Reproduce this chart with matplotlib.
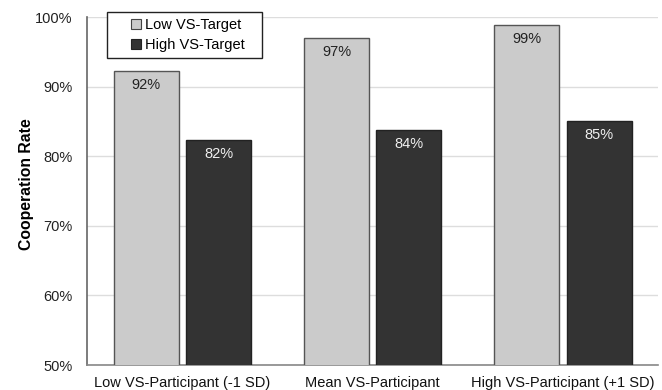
import matplotlib
matplotlib.use("Agg")
import matplotlib.pyplot as plt
from matplotlib.lines import Line2D
import numpy as np

plt.rcParams['font.family'] = ['Liberation Sans', 'DejaVu Sans']

categories = ["Low VS-Participant (-1 SD)", "Mean VS-Participant", "High VS-Participant (+1 SD)"]
series_names = ["Low VS-Target", "High VS-Target"]
low_target = [92.2, 97.0, 98.9]
high_target = [82.4, 83.8, 85.1]
bar_labels_low = ["92%", "97%", "99%"]
bar_labels_high = ["82%", "84%", "85%"]
yticks = [50, 60, 70, 80, 90, 100]

light = "#cbcbcb"
dark = "#333333"

fig = plt.figure(figsize=(6.62, 3.90), dpi=100)
ax = fig.add_axes([0.132, 0.064, 0.862, 0.892])

x = np.arange(len(categories))
w = 0.342
off = 0.19

b1 = ax.bar(x - off, low_target, width=w, color=light, edgecolor="#555555", linewidth=1.0, zorder=3)
b2 = ax.bar(x + off, high_target, width=w, color=dark, edgecolor="#222222", linewidth=1.0, zorder=3)

for rect, txt in zip(b1, bar_labels_low):
    ax.annotate(txt, (rect.get_x() + rect.get_width() / 2, rect.get_height()),
                xytext=(0, -5), textcoords="offset points", ha="center", va="top",
                fontsize=10.5, color="#222222", zorder=4)
for rect, txt in zip(b2, bar_labels_high):
    ax.annotate(txt, (rect.get_x() + rect.get_width() / 2, rect.get_height()),
                xytext=(0, -5), textcoords="offset points", ha="center", va="top",
                fontsize=10.5, color="#f0f0f0", zorder=4)

ax.set_xlim(-0.5, 2.5)
ax.set_ylim(50, 100)
ax.set_yticks(yticks)
ax.set_yticklabels([f"{v}%" for v in yticks], fontsize=10.5, color="#222222")
ax.set_xticks(x)
ax.set_xticklabels(categories, fontsize=10.5, color="#111111")
ax.tick_params(axis="x", length=0, pad=8)
ax.tick_params(axis="y", length=0, pad=10.5)

ax.yaxis.grid(True, color="#dddddd", linewidth=1.0, zorder=0)
ax.set_axisbelow(True)
for s in ["top", "right"]:
    ax.spines[s].set_visible(False)
ax.spines["left"].set_color("#666666")
ax.spines["bottom"].set_color("#888888")
ax.spines["left"].set_linewidth(1.2)
ax.spines["bottom"].set_linewidth(1.2)

ax.set_ylabel("Cooperation Rate", fontsize=11.3, fontweight="bold")
ax.yaxis.set_label_coords(-0.094, 0.52)

handles = [
    Line2D([], [], linestyle="none", marker="s", markersize=6.5,
           markerfacecolor=light, markeredgecolor="#444444", markeredgewidth=0.8),
    Line2D([], [], linestyle="none", marker="s", markersize=6.5,
           markerfacecolor=dark, markeredgecolor="#222222", markeredgewidth=0.8),
]
leg = ax.legend(handles, series_names, loc="upper left", mode="expand",
                bbox_to_anchor=(0.034, 0.894, 0.272, 0.12), fontsize=10.5,
                frameon=True, fancybox=False, edgecolor="#222222", framealpha=1,
                handlelength=3.2, handletextpad=-1.0,
                borderpad=0.4, labelspacing=0.42, borderaxespad=0)
leg.get_frame().set_linewidth(1.0)
leg.set_zorder(5)

fig.savefig("out.png", dpi=100)
